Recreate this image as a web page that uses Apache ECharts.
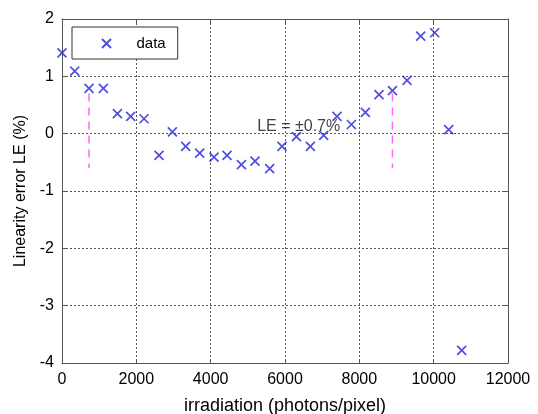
<!DOCTYPE html>
<html><head><meta charset="utf-8">
<script src="https://cdn.jsdelivr.net/npm/echarts@6/dist/echarts.min.js"></script>
<style>html,body{margin:0;padding:0;background:#fff}#c{width:538px;height:414px}</style>
</head><body><div id="c"></div>
<script>
const irradiation = [0, 342, 727, 1113, 1490, 1848, 2207, 2610, 2970, 3328, 3705, 4090, 4440, 4827, 5193, 5588, 5920, 6307, 6683, 7041, 7399, 7787, 8163, 8529, 8890, 9283, 9651, 10027, 10404, 10754];
const linearityError = [1.41, 1.09, 0.79, 0.79, 0.35, 0.30, 0.26, -0.38, 0.03, -0.22, -0.34, -0.41, -0.38, -0.54, -0.48, -0.61, -0.22, -0.05, -0.22, -0.03, 0.30, 0.16, 0.37, 0.68, 0.75, 0.93, 1.70, 1.76, 0.07, -3.78];
const boundX = [727, 8890];
const boundY = [0.7, -0.6];
const annotation = {text: 'LE = ±0.7%', x: 6369, y: 0.13};
const seriesName = 'data';

const font = 'Liberation Sans, Arial, sans-serif';
const axisCol = '#555';
const gridLine = {show: true, lineStyle: {color: '#555', type: [2, 2], width: 1}};
const chart = echarts.init(document.getElementById('c'));
const xCross = 'path://M0,0L10,10M10,0L0,10';
const plainNum = v => String(v);
chart.setOption({
  animation: false,
  grid: {left: 62, right: 30, top: 19, bottom: 51, containLabel: false, outerBoundsMode: 'none'},
  legend: {
    data: [seriesName], left: 72, top: 27, width: 107, height: 30,
    itemWidth: 14, itemHeight: 9, itemGap: 0,
    padding: [9, 12, 8, 29], borderColor: '#333', borderWidth: 1,
    backgroundColor: '#fff',
    textStyle: {fontFamily: font, fontSize: 15, color: '#000', padding: [0, 0, 0, 18]}
  },
  xAxis: [{
    type: 'value', min: 0, max: 12000, interval: 2000,
    name: 'irradiation (photons/pixel)', nameLocation: 'middle', nameGap: 34,
    nameTextStyle: {fontFamily: font, fontSize: 18, color: '#000'},
    axisLine: {show: true, onZero: false, lineStyle: {color: axisCol}},
    axisTick: {show: true, inside: true, length: 4, lineStyle: {color: axisCol}},
    axisLabel: {fontFamily: font, fontSize: 16, color: '#000', margin: 9, formatter: plainNum},
    splitLine: gridLine
  }, {
    type: 'value', position: 'top', min: 0, max: 12000, interval: 2000,
    axisLine: {show: true, onZero: false, lineStyle: {color: axisCol}},
    axisTick: {show: true, inside: true, length: 4, lineStyle: {color: axisCol}},
    axisLabel: {show: false}, splitLine: {show: false}
  }],
  yAxis: [{
    type: 'value', min: -4, max: 2, interval: 1,
    name: 'Linearity error LE (%)', nameLocation: 'middle', nameGap: 32, nameRotate: 90,
    nameTextStyle: {fontFamily: font, fontSize: 16, color: '#000'},
    axisLine: {show: true, onZero: false, lineStyle: {color: axisCol}},
    axisTick: {show: true, inside: true, length: 4, lineStyle: {color: axisCol}},
    axisLabel: {fontFamily: font, fontSize: 16, color: '#000', margin: 8, formatter: plainNum},
    splitLine: gridLine
  }, {
    type: 'value', position: 'right', min: -4, max: 2, interval: 1,
    axisLine: {show: true, onZero: false, lineStyle: {color: axisCol}},
    axisTick: {show: true, inside: true, length: 4, lineStyle: {color: axisCol}},
    axisLabel: {show: false}, splitLine: {show: false}
  }],
  series: [{
    name: seriesName, type: 'scatter', symbol: xCross, symbolSize: 9,
    itemStyle: {color: 'rgba(0,0,0,0)', borderColor: '#2424d4', borderWidth: 1.7},
    data: irradiation.map((x, i) => [x, linearityError[i]]),
    z: 5
  }, {
    type: 'line', symbol: 'none', silent: true,
    lineStyle: {color: '#ff66ff', width: 1.5, type: [8, 6]},
    data: [[boundX[0], boundY[0]], [boundX[0], boundY[1]]], z: 3
  }, {
    type: 'line', symbol: 'none', silent: true,
    lineStyle: {color: '#ff66ff', width: 1.5, type: [8, 6]},
    data: [[boundX[1], boundY[0]], [boundX[1], boundY[1]]], z: 3
  }, {
    type: 'scatter', symbolSize: 0, silent: true, z: 6,
    data: [[annotation.x, annotation.y]],
    label: {show: true, position: 'inside', formatter: annotation.text,
      fontFamily: font, fontSize: 16, color: '#111'}
  }]
});
</script></body></html>
